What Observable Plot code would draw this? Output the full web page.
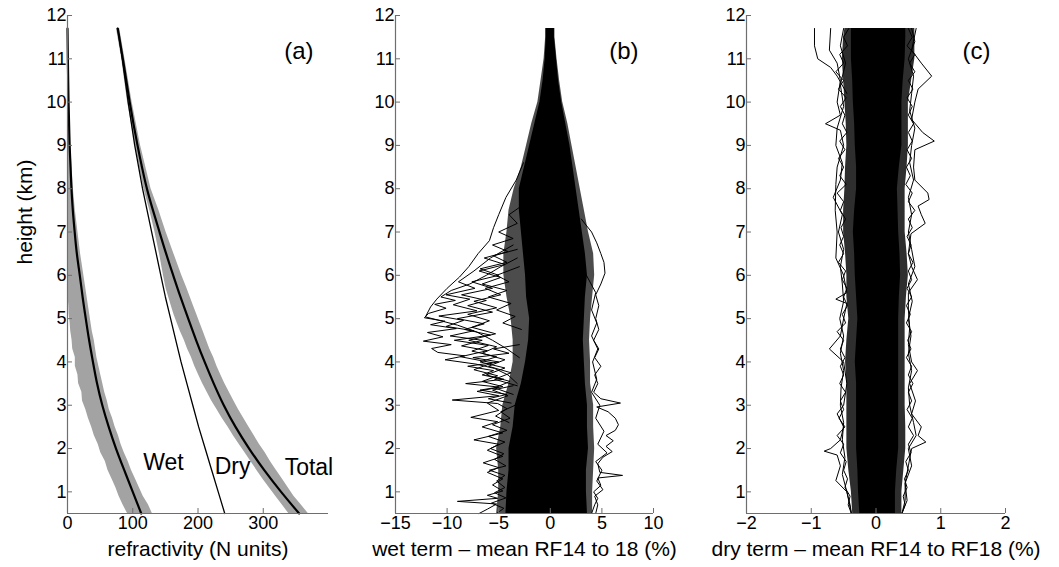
<!DOCTYPE html>
<html><head><meta charset="utf-8">
<script src="https://cdn.jsdelivr.net/npm/d3@7"></script>
<script src="https://cdn.jsdelivr.net/npm/@observablehq/plot@0.6"></script>
<style>
body{margin:0;background:#fff;}
#wrap{position:relative;width:1059px;height:567px;overflow:hidden;font-family:"Liberation Sans",Arial,sans-serif;}
#wrap > div{position:absolute;top:0;}
</style></head><body>
<div id="wrap"><div id="pa" style="left:0px"></div><div id="pb" style="left:360px"></div><div id="pc" style="left:700px"></div></div>
<script>
// ---------- shared ----------
const yTicks = [1,2,3,4,5,6,7,8,9,10,11,12];
const yDomain = [0.5, 12];

// ---------- panel (a): refractivity ----------
const xDomainA = [0, 400];
const xTicksA = [0, 100, 200, 300];
const hMean = [0.5,1,1.5,2,2.5,3,3.5,4,4.5,5,5.5,6,6.5,7,7.5,8,9,10,11,11.7];
const totalMean = [355,327,301,278,257,239,224,210,197,185,173,162,151,141,131,121,107,95,85,77];
const wetMean   = [113,100,87,74,63,53,45,39,33,28,23,19,14,11,8,6,3,1.5,0.5,0];
const dryMean   = [241,231,221,211,201,192,183,174,166,158,150,143,136,129,122,115,103,93,84,77];
const hBand = [0.5,0.7,0.9,1.1,1.3,1.5,1.7,1.9,2.1,2.3,2.5,2.7,2.9,3.1,3.3,3.5,3.7,3.9,4.1,4.3,4.5,4.7,4.9,5.1,5.3,5.5,5.7,6,6.5,7,7.5,8,9,10,11,11.7];
const wetLo = [92,85,79,74,68,62,58,51,47,41,37,32,28,23,22,17,16,12,12,8,7,5,4,2.5,2,1,0.8,0.5,0,0,0,0,0,0,0,0];
const wetHi = [130,124,116,110,104,98,93,87,82,78,73,69,64,61,57,54,51,48,45,43,41,38,36,34,32,30,28,25,20,16,12,9,5,3,2,1];
const totLo = [339,329,319,309,299,290,281,272,263,254,246,237,229,221,214,207,201,195,190,184,179,173,168,163,159,155,151,147,141,134,126,117,104,92,83,75];
const totHi = [369,358,347,338,329,320,311,303,294,286,278,270,262,255,248,241,235,229,224,218,213,208,203,198,193,188,183,175,163,151,140,128,112,99,88,80];
const curveLabels = ["Wet", "Dry", "Total"];
const curveLabelX = [147, 253, 370];
const curveLabelH = [1.68, 1.58, 1.56];

// ---------- panel (b): wet term deviation ----------
const xDomainB = [-15, 10];
const xTicksB = [-15, -10, -5, 0, 5, 10];
const hB = [0.5,1,1.5,2,2.5,3,3.5,4,4.5,5,5.5,6,6.5,7,7.5,8,8.5,9,9.5,10,10.5,11,11.5,11.7];
const coreBlo = [-4.3,-4.2,-4.0,-4.0,-3.6,-3.4,-2.8,-2.4,-2.1,-2.0,-2.3,-2.4,-2.6,-2.8,-3.0,-3.0,-2.5,-2.0,-1.5,-1.0,-0.7,-0.5,-0.4,-0.4];
const coreBhi = [3.6,3.5,3.5,3.7,3.6,3.6,3.4,3.3,3.2,3.3,3.4,3.6,3.4,3.1,2.8,2.5,2.2,1.9,1.5,1.1,0.8,0.6,0.4,0.4];
const midBlo = [-5.2,-5.0,-5.0,-5.2,-4.8,-4.6,-4.0,-3.6,-3.6,-3.8,-4.2,-4.5,-4.5,-4.2,-4.0,-3.5,-2.8,-2.3,-1.8,-1.2,-0.9,-0.6,-0.45,-0.45];
const midBhi = [4.1,4.1,4.2,4.3,4.2,4.2,3.9,3.9,3.8,3.9,4.1,4.3,4.2,3.7,3.3,2.9,2.5,2.1,1.7,1.2,0.9,0.65,0.45,0.45];
const outB1 = [[6.4,-3.2],[6.2,-4.8],[6.0,-6.2],[5.8,-7.8],[5.65,-9.6],[5.5,-10.6],[5.42,-9.2],[5.33,-11.2],[5.24,-10.1],[5.12,-11.8],[5.02,-12.2],[4.94,-10.2],[4.86,-11.6],[4.77,-9.1],[4.68,-11.9],[4.58,-10.4],[4.48,-12.3],[4.4,-9.6],[4.31,-11.5],[4.22,-10.9],[4.14,-8.3],[4.05,-10.2],[3.95,-7.2],[3.85,-5.4],[3.7,-4.1],[3.5,-3.2]];
const outB2 = [[6.7,-3.6],[6.4,-5.8],[6.1,-7.4],[5.85,-8.9],[5.7,-7.3],[5.55,-10.1],[5.45,-7.8],[5.32,-9.4],[5.18,-7.1],[5.06,-10.8],[4.96,-8.4],[4.82,-10.1],[4.72,-7.4],[4.6,-9.7],[4.5,-6.6],[4.37,-8.6],[4.26,-6.1],[4.12,-8.7],[3.98,-5.6],[3.82,-7.4],[3.68,-5.1],[3.55,-6.6],[3.43,-4.6],[3.32,-7.1],[3.22,-5.0],[3.12,-9.5],[3.04,-5.1],[2.92,-4.2],[2.75,-5.3],[2.6,-4.0]];
const outB3 = [[3.45,-3.6],[3.35,-5.6],[3.22,-4.1],[3.05,-6.1],[2.88,-5.0],[2.72,-7.7],[2.62,-5.1],[2.5,-6.6],[2.36,-4.6],[2.2,-7.4],[2.1,-5.0],[1.96,-6.1],[1.82,-4.6],[1.67,-6.5],[1.56,-5.0],[1.45,-6.1],[1.3,-4.6],[1.16,-5.6],[1.02,-4.6],[0.92,-6.1],[0.85,-5.1],[0.78,-9.0],[0.72,-5.2],[0.6,-6.1],[0.5,-6.9]];
const outB4 = [[8.6,-2.6],[8.2,-3.3],[7.8,-4.3],[7.4,-5.0],[7.1,-5.5],[6.8,-5.9],[6.5,-7.0],[6.2,-7.9],[5.96,-8.8],[5.7,-10.0],[5.45,-11.0],[5.27,-11.6],[5.04,-12.1],[4.95,-10.6],[4.85,-9.0],[4.7,-7.2],[4.5,-5.6],[4.3,-4.2],[4.1,-3.0]];
const outB5 = [[6.2,-3.0],[6.0,-5.2],[5.85,-4.0],[5.7,-6.3],[5.55,-4.8],[5.4,-7.4],[5.25,-5.2],[5.1,-8.0],[4.95,-5.9],[4.8,-7.6],[4.65,-5.3],[4.5,-7.9],[4.35,-5.2],[4.2,-6.6],[4.05,-4.4],[3.9,-6.0],[3.75,-3.8],[3.6,-5.4],[3.45,-3.2]];
const outB6 = [[7.3,3.0],[7.0,4.0],[6.75,4.5],[6.5,4.9],[6.3,5.2],[6.05,5.3],[5.8,4.9],[5.55,4.4],[5.3,4.7],[5.0,4.4],[4.75,4.7],[4.5,4.2],[4.3,4.7],[4.1,4.3],[3.9,4.9],[3.7,4.3],[3.5,4.6],[3.3,4.2],[3.15,4.9],[3.05,6.8],[2.96,4.5],[2.85,5.6],[2.7,6.3],[2.55,6.6],[2.42,6.3],[2.3,5.4],[2.18,6.1],[2.05,5.4],[1.93,6.0],[1.8,5.1],[1.65,4.6],[1.45,4.8],[1.38,7.0],[1.32,4.6],[1.15,4.9],[1.0,4.2],[0.85,4.6],[0.7,4.3],[0.5,4.0]];
const outB7 = [[6.0,3.5],[5.6,4.4],[5.2,4.0],[4.9,4.5],[4.6,4.0],[4.3,4.6],[4.0,4.1],[3.6,4.5],[3.3,4.0],[3.0,4.8],[2.7,4.4],[2.4,5.2],[2.1,4.6],[1.9,5.5],[1.7,4.4],[1.5,5.0],[1.25,4.5],[1.05,5.1],[0.9,4.3],[0.7,4.6],[0.5,4.4]];
const outB8 = [[6.6,-3.2],[6.45,-5.5],[6.3,-4.2],[6.15,-6.8],[6.0,-5.0],[5.85,-7.6],[5.7,-5.6],[5.55,-8.6],[5.42,-6.2],[5.3,-8.0],[5.15,-5.6],[5.0,-9.0],[4.88,-6.4],[4.75,-8.3],[4.62,-5.8],[4.5,-9.3],[4.38,-6.0],[4.25,-7.6],[4.12,-5.2],[4.0,-6.8],[3.86,-4.4],[3.7,-6.2],[3.55,-3.9],[3.4,-5.4],[3.25,-3.6]];
const outB9 = [[7.6,-2.8],[7.4,-4.0],[7.2,-3.2],[7.0,-5.0],[6.85,-3.6],[6.7,-5.6],[6.55,-4.1],[6.4,-6.4],[6.25,-4.4],[6.1,-6.9],[5.95,-4.8],[5.8,-6.6],[5.65,-4.2],[5.5,-6.0],[5.35,-3.8],[5.2,-5.2],[5.05,-3.4],[4.9,-4.6],[4.75,-2.8]];
const outB10 = [[3.0,-3.4],[2.85,-4.8],[2.7,-3.9],[2.55,-5.6],[2.42,-4.2],[2.28,-6.0],[2.15,-4.4],[2.0,-5.8],[1.88,-4.5],[1.75,-5.4],[1.6,-4.3],[1.5,-5.9],[1.38,-4.4],[1.25,-5.2],[1.1,-4.4],[0.98,-5.4],[0.86,-4.3],[0.74,-5.7],[0.62,-4.5],[0.5,-5.2]];
const outB11 = [[4.4,-3.0],[4.3,-5.5],[4.2,-4.0],[4.1,-7.5],[4.0,-5.0],[3.9,-8.0],[3.8,-5.5],[3.7,-6.6],[3.6,-4.5],[3.5,-8.2],[3.42,-5.0],[3.35,-6.8],[3.25,-4.2],[3.15,-6.0],[3.05,-3.8]];
const outlinesB = [outB1, outB2, outB3, outB4, outB5, outB6, outB7, outB8, outB9, outB10, outB11];

// ---------- panel (c): dry term deviation ----------
const xDomainC = [-2, 2];
const xTicksC = [-2, -1, 0, 1, 2];
const hC = [0.5,1,1.5,2,2.5,3,3.5,4,4.5,5,5.5,6,6.5,7,7.5,8,8.5,9,9.5,10,10.5,11,11.5,11.7];
const coreClo = [-0.25,-0.27,-0.28,-0.3,-0.3,-0.3,-0.3,-0.32,-0.3,-0.28,-0.3,-0.32,-0.33,-0.35,-0.33,-0.3,-0.3,-0.32,-0.33,-0.35,-0.36,-0.38,-0.38,-0.38];
const coreChi = [0.3,0.3,0.32,0.35,0.35,0.35,0.35,0.35,0.35,0.35,0.36,0.38,0.37,0.35,0.34,0.33,0.36,0.4,0.4,0.4,0.42,0.45,0.46,0.46];
const midClo = [-0.36,-0.38,-0.42,-0.45,-0.45,-0.45,-0.45,-0.47,-0.45,-0.42,-0.45,-0.45,-0.47,-0.5,-0.5,-0.48,-0.47,-0.45,-0.46,-0.48,-0.5,-0.52,-0.5,-0.48];
const midChi = [0.4,0.4,0.43,0.46,0.46,0.45,0.45,0.45,0.45,0.45,0.47,0.5,0.48,0.45,0.45,0.45,0.48,0.5,0.5,0.5,0.55,0.6,0.6,0.6];
const outC1 = [[11.7,-0.95],[11.3,-0.95],[11.0,-0.9],[10.8,-0.7],[10.6,-0.6],[10.2,-0.45]];
const outC2 = [[11.7,-0.7],[11.2,-0.72],[10.9,-0.6],[10.5,-0.55],[10.0,-0.6],[9.7,-0.55],[9.5,-0.78],[9.35,-0.55],[9.0,-0.5],[8.5,-0.6],[8.1,-0.62],[7.5,-0.63],[7.0,-0.6],[6.4,-0.62],[6.0,-0.5],[5.6,-0.45],[5.45,-0.62],[5.35,-0.45],[5.0,-0.5],[4.6,-0.55],[4.3,-0.72],[4.0,-0.5],[3.5,-0.45],[3.0,-0.5],[2.8,-0.6],[2.5,-0.5],[2.2,-0.55],[2.0,-0.7],[1.94,-0.8],[1.85,-0.6],[1.6,-0.55],[1.26,-0.62],[1.0,-0.45],[0.5,-0.38]];
const outC3 = [[11.7,-0.5],[11.3,-0.55],[10.9,-0.47],[10.4,-0.55],[9.9,-0.5],[9.4,-0.6],[9.0,-0.62],[8.6,-0.52],[8.2,-0.55],[7.8,-0.66],[7.4,-0.52],[7.0,-0.58],[6.6,-0.5],[6.2,-0.55],[5.8,-0.52],[5.4,-0.5],[5.0,-0.56],[4.6,-0.5],[4.2,-0.55],[3.8,-0.5],[3.4,-0.54],[3.0,-0.55],[2.6,-0.5],[2.2,-0.52],[1.8,-0.48],[1.4,-0.52],[1.0,-0.45],[0.7,-0.4],[0.5,-0.38]];
const outC4 = [[11.7,0.62],[11.2,0.55],[10.9,0.7],[10.6,0.86],[10.3,0.65],[10.0,0.6],[9.6,0.55],[9.3,0.72],[9.1,0.9],[8.9,0.6],[8.5,0.58],[8.2,0.6],[7.9,0.8],[7.75,0.82],[7.6,0.65],[7.4,0.7],[7.2,0.76],[6.96,0.54],[6.5,0.5],[6.2,0.55],[5.9,0.64],[5.6,0.5],[5.2,0.5],[4.8,0.52],[4.4,0.5],[4.0,0.55],[3.8,0.64],[3.5,0.52],[3.1,0.61],[2.8,0.55],[2.5,0.7],[2.3,0.65],[2.15,0.77],[2.0,0.55],[1.6,0.5],[1.2,0.45],[0.8,0.45],[0.5,0.4]];
const outC5 = [[11.7,0.55],[11.4,0.6],[11.0,0.5],[10.6,0.58],[10.2,0.55],[9.8,0.52],[9.4,0.6],[9.0,0.55],[8.6,0.52],[8.2,0.58],[7.8,0.5],[7.4,0.55],[7.0,0.5],[6.6,0.55],[6.2,0.6],[5.8,0.5],[5.4,0.56],[5.0,0.5],[4.6,0.54],[4.2,0.5],[3.8,0.55],[3.4,0.5],[3.0,0.52],[2.6,0.58],[2.3,0.62],[2.0,0.5],[1.6,0.55],[1.2,0.45],[0.8,0.48],[0.5,0.4]];
const outC6 = [[11.7,-0.42],[11.5,-0.5],[11.3,-0.44],[11.1,-0.56],[10.9,-0.5],[10.7,-0.62],[10.5,-0.5],[10.3,-0.58],[10.1,-0.46],[9.9,-0.55],[9.7,-0.48],[9.5,-0.52],[9.3,-0.45],[9.1,-0.56],[8.9,-0.48],[8.7,-0.58],[8.5,-0.5],[8.3,-0.56],[8.1,-0.46],[7.9,-0.6],[7.7,-0.5],[7.5,-0.55],[7.3,-0.47],[7.1,-0.54],[6.9,-0.5],[6.7,-0.56],[6.5,-0.5],[6.3,-0.58],[6.1,-0.47],[5.9,-0.52],[5.7,-0.45],[5.5,-0.5],[5.3,-0.44],[5.1,-0.52],[4.9,-0.47],[4.7,-0.6],[4.5,-0.5],[4.3,-0.55],[4.1,-0.48],[3.9,-0.55],[3.7,-0.5],[3.5,-0.56],[3.3,-0.47],[3.1,-0.55],[2.9,-0.5],[2.7,-0.57],[2.5,-0.48],[2.3,-0.6],[2.1,-0.5],[1.9,-0.55],[1.7,-0.46],[1.5,-0.5],[1.3,-0.44],[1.1,-0.48],[0.9,-0.4],[0.7,-0.43],[0.5,-0.38]];
const outC7 = [[11.7,0.5],[11.5,0.56],[11.3,0.48],[11.1,0.6],[10.9,0.52],[10.7,0.6],[10.5,0.5],[10.3,0.57],[10.1,0.48],[9.9,0.56],[9.7,0.5],[9.5,0.58],[9.3,0.5],[9.1,0.56],[8.9,0.48],[8.7,0.55],[8.5,0.47],[8.3,0.53],[8.1,0.46],[7.9,0.56],[7.7,0.5],[7.5,0.6],[7.3,0.5],[7.1,0.56],[6.9,0.48],[6.7,0.54],[6.5,0.5],[6.3,0.57],[6.1,0.5],[5.9,0.55],[5.7,0.48],[5.5,0.55],[5.3,0.47],[5.1,0.53],[4.9,0.47],[4.7,0.55],[4.5,0.49],[4.3,0.54],[4.1,0.47],[3.9,0.55],[3.7,0.5],[3.5,0.57],[3.3,0.5],[3.1,0.55],[2.9,0.48],[2.7,0.56],[2.5,0.5],[2.3,0.58],[2.1,0.5],[1.9,0.54],[1.7,0.46],[1.5,0.5],[1.3,0.44],[1.1,0.48],[0.9,0.42],[0.7,0.45],[0.5,0.4]];
const outlinesC = [outC1, outC2, outC3, outC4, outC5, outC6, outC7];

// ---------- drawing ----------
const axisColor = "#6e6e6e";
const font = "'Liberation Sans', Arial, Helvetica, sans-serif";
const intFmt = d3.format("d");

function frameMarks(xDomain, xTicks, xLabel, panelName) {
  return [
    Plot.ruleX([xDomain[0]], {stroke: axisColor, strokeWidth: 1.2}),
    Plot.ruleY([yDomain[0]], {stroke: axisColor, strokeWidth: 1.2}),
    Plot.axisX({ticks: xTicks, tickSize: -5, tickPadding: 8, tickFormat: intFmt, stroke: axisColor, fill: "black", fontSize: 18, label: null}),
    Plot.axisY({ticks: yTicks, tickSize: -5, tickPadding: 6, tickFormat: intFmt, stroke: axisColor, fill: "black", fontSize: 18, label: null}),
    Plot.text([xLabel], {text: d => d, frameAnchor: "bottom", dy: 42, fontSize: 21, fill: "black"}),
    Plot.text([panelName], {text: d => d, frameAnchor: "top-right", textAnchor: "end", dx: -15, dy: 26, fontSize: 24, fill: "black"})
  ];
}

function idx(n) { return d3.range(n); }

function makePlot(el, width, marginLeft, marginRight, xDomain, marks) {
  const p = Plot.plot({
    width, height: 567, marginLeft, marginRight, marginTop: 15, marginBottom: 54,
    x: {domain: xDomain}, y: {domain: yDomain},
    style: {fontFamily: font, fontSize: "18px", color: "black", background: "transparent", overflow: "visible"},
    marks
  });
  document.getElementById(el).appendChild(p);
}

// Panel (a)
makePlot("pa", 360, 67, 32, xDomainA, [
  Plot.areaX(idx(hBand.length), {y: i => hBand[i], x1: i => wetLo[i], x2: i => wetHi[i], fill: "#a3a3a3"}),
  Plot.areaX(idx(hBand.length), {y: i => hBand[i], x1: i => totLo[i], x2: i => totHi[i], fill: "#a3a3a3"}),
  Plot.line(idx(hMean.length), {y: i => hMean[i], x: i => dryMean[i], stroke: "black", strokeWidth: 1.3}),
  Plot.line(idx(hMean.length), {y: i => hMean[i], x: i => wetMean[i], stroke: "black", strokeWidth: 2.2, curve: "basis"}),
  Plot.line(idx(hMean.length), {y: i => hMean[i], x: i => totalMean[i], stroke: "black", strokeWidth: 2.2, curve: "basis"}),
  Plot.text(curveLabels, {text: d => d, x: (d, i) => curveLabelX[i], y: (d, i) => curveLabelH[i], fontSize: 23, fill: "black"}),
  ...frameMarks(xDomainA, xTicksA, "refractivity (N units)", "(a)"),
  Plot.text(["height (km)"], {text: d => d, frameAnchor: "left", rotate: -90, dx: -42, fontSize: 21, fill: "black"})
]);

// Panel (b)
makePlot("pb", 340, 35, 47, xDomainB, [
  Plot.areaX(idx(hB.length), {y: i => hB[i], x1: i => midBlo[i], x2: i => midBhi[i], fill: "black", fillOpacity: 0.7}),
  Plot.areaX(idx(hB.length), {y: i => hB[i], x1: i => coreBlo[i], x2: i => coreBhi[i], fill: "black"}),
  ...outlinesB.map(line => Plot.line(line, {x: d => d[1], y: d => d[0], stroke: "black", strokeWidth: 1})),
  ...frameMarks(xDomainB, xTicksB, "wet term \u2013 mean RF14 to 18 (%)", "(b)")
]);

// Panel (c)
makePlot("pc", 359, 46, 54, xDomainC, [
  Plot.areaX(idx(hC.length), {y: i => hC[i], x1: i => midClo[i], x2: i => midChi[i], fill: "black", fillOpacity: 0.82}),
  Plot.areaX(idx(hC.length), {y: i => hC[i], x1: i => coreClo[i], x2: i => coreChi[i], fill: "black"}),
  ...outlinesC.map(line => Plot.line(line, {x: d => d[1], y: d => d[0], stroke: "black", strokeWidth: 1})),
  ...frameMarks(xDomainC, xTicksC, "dry term \u2013 mean RF14 to RF18 (%)", "(c)")
]);
</script>
</body></html>
